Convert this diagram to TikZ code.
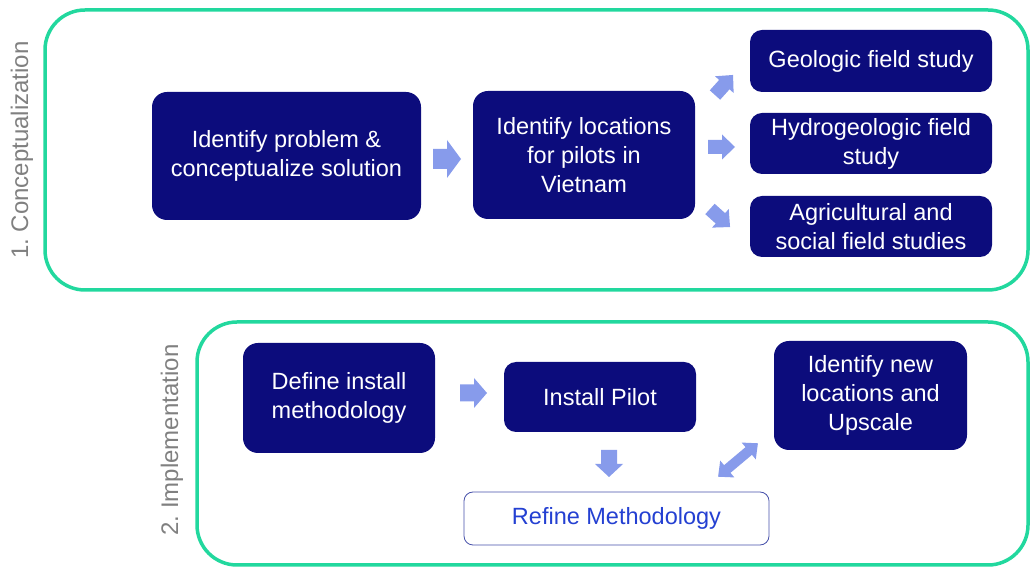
\documentclass[tikz,border=0pt]{standalone}
\usepackage{fontspec}
\setmainfont{Liberation Sans}
\usetikzlibrary{calc}
\frenchspacing
\definecolor{navy}{RGB}{12,12,124}
\definecolor{teal}{RGB}{34,216,158}
\definecolor{arrowblue}{RGB}{135,155,235}
\definecolor{labelgray}{RGB}{128,128,128}
\definecolor{refineblue}{RGB}{36,64,210}
\definecolor{refineborder}{RGB}{70,80,170}
\tikzset{
  phase/.style={draw=teal, line width=3.5pt, rounded corners=40pt},
  phaselabel/.style={text=labelgray, font=\fontsize{24}{29}\selectfont, rotate=90, inner sep=0pt},
  stepbox/.style={fill=navy, text=white, rounded corners=#1, align=center, inner sep=0pt,
    font=\fontsize{23.5}{29}\selectfont},
  stepbox/.default=15pt,
  refinebox/.style={draw=refineborder, line width=0.8pt, fill=white, text=refineblue, rounded corners=9pt,
    align=center, inner sep=0pt, font=\fontsize{23.5}{29}\selectfont},
  pics/barrow/.style args={#1/#2/#3/#4}{code={
    \fill[arrowblue] (-#1/2,-#3/2) -- (#1/2-#4,-#3/2) -- (#1/2-#4,-#2/2) -- (#1/2,0)
      -- (#1/2-#4,#2/2) -- (#1/2-#4,#3/2) -- (-#1/2,#3/2) -- cycle;}},
  pics/dbarrow/.style args={#1/#2/#3/#4}{code={
    \fill[arrowblue] (-#1/2+#4,-#3/2) -- (#1/2-#4,-#3/2) -- (#1/2-#4,-#2/2) -- (#1/2,0)
      -- (#1/2-#4,#2/2) -- (#1/2-#4,#3/2) -- (-#1/2+#4,#3/2) -- (-#1/2+#4,#2/2)
      -- (-#1/2,0) -- (-#1/2+#4,-#2/2) -- cycle;}},
}
\begin{document}
\begin{tikzpicture}[x=1pt,y=1pt]
\useasboundingbox (0,0) rectangle (1030,567);
% phases
\draw[phase] (45,557) rectangle (1028,277);
\draw[phase] (197,245) rectangle (1028,2);
\node[phaselabel] (lab1) at (22,417) {1. Conceptualization};
\node[phaselabel] (lab2) at (172,127) {2. Implementation};
% phase 1
\node[stepbox, minimum width=269pt, minimum height=128pt] (b1) at (286.5,411)
  {Identify problem \&\\conceptualize solution};
\node[stepbox, minimum width=222pt, minimum height=128pt] (b2) at (584,412)
  {Identify locations\\for pilots in\\Vietnam};
\node[stepbox=12pt, minimum width=242pt, minimum height=62pt] (ga) at (871,506)
  {Geologic field study};
\node[stepbox=12pt, minimum width=242pt, minimum height=61pt] (gb) at (871,423.5)
  {Hydrogeologic field\\study};
\node[stepbox=12pt, minimum width=242pt, minimum height=61pt] (gc) at (871,340.5)
  {Agricultural and\\social field studies};
\pic at (447,408) {barrow=28/38/20/14};
\pic[rotate=48] at (724,482) {barrow=27/25/14/13};
\pic at (721.5,420) {barrow=27/25/14/13};
\pic[rotate=-42] at (720,349) {barrow=27/25/14/13};
% phase 2
\node[stepbox, minimum width=192pt, minimum height=110pt] (d1) at (339,169)
  {Define install\\methodology};
\node[stepbox=12pt, minimum width=192pt, minimum height=70pt] (ip) at (600,170)
  {Install Pilot};
\node[stepbox, minimum width=193pt, minimum height=109pt] (nl) at (870.5,171.5)
  {Identify new\\locations and\\Upscale};
\node[refinebox, minimum width=305pt, minimum height=53pt] (rm) at (616.5,48.5)
  {Refine Methodology};
\pic at (473.5,174) {barrow=27/30/17/13};
\pic[rotate=-90] at (609,103.5) {barrow=27/28/16/13};
\pic[rotate=40] at (738,107) {dbarrow=52/22/10/12};
\end{tikzpicture}
\end{document}
